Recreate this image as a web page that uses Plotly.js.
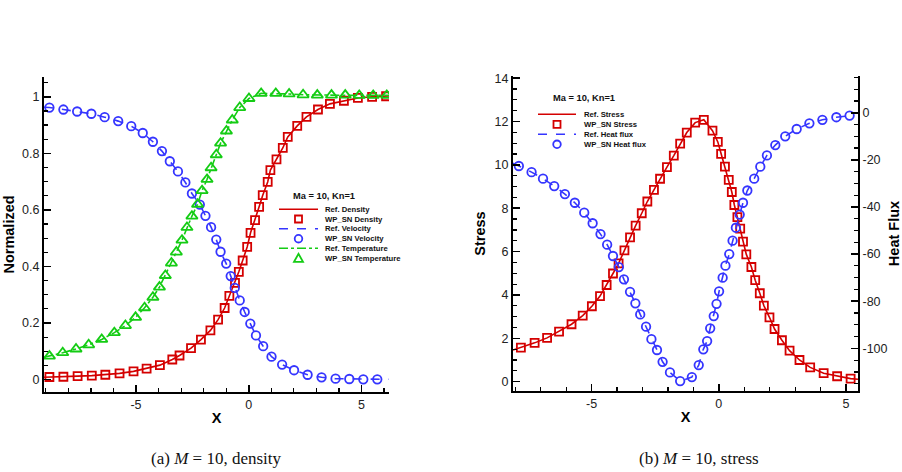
<!DOCTYPE html>
<html><head><meta charset="utf-8">
<script src="https://cdn.plot.ly/plotly-3.0.1.min.js"></script>
<style>html,body{margin:0;padding:0;background:#fff}#chart{width:902px;height:472px}</style>
</head><body><div id="chart"></div>
<script>
// ---------- (a) density / velocity / temperature ----------
const densX = [-8.84,-8.22,-7.59,-6.96,-6.36,-5.73,-5.11,-4.53,-3.94,-3.39,-3.07,-2.56,-2.12,-1.70,-1.36,-1.07,-0.86,-0.61,-0.44,-0.27,-0.07,0.08,0.28,0.46,0.62,0.84,0.96,1.23,1.51,1.73,2.15,2.56,3.07,3.60,4.22,4.84,5.47,6.09];
const densY = [0.009,0.010,0.012,0.014,0.017,0.022,0.029,0.039,0.051,0.071,0.085,0.111,0.141,0.174,0.212,0.253,0.296,0.342,0.381,0.421,0.469,0.519,0.564,0.611,0.652,0.699,0.741,0.779,0.819,0.858,0.897,0.929,0.955,0.975,0.986,0.996,1.000,1.002];
const velX = [-8.84,-8.22,-7.61,-6.98,-6.39,-5.79,-5.21,-4.70,-4.25,-3.85,-3.50,-3.14,-2.81,-2.52,-2.17,-1.92,-1.67,-1.44,-1.25,-1.00,-0.80,-0.62,-0.40,-0.18,0.07,0.32,0.64,1.01,1.48,2.01,2.61,3.23,3.85,4.46,5.08,5.70];
const velY = [0.962,0.955,0.948,0.940,0.928,0.914,0.896,0.872,0.841,0.808,0.772,0.736,0.697,0.658,0.619,0.579,0.539,0.495,0.452,0.410,0.366,0.324,0.280,0.239,0.198,0.156,0.118,0.081,0.053,0.033,0.017,0.008,0.003,0.002,0.001,0.001];
const tempX = [-8.84,-8.25,-7.66,-7.10,-6.52,-5.96,-5.47,-5.02,-4.62,-4.25,-3.96,-3.70,-3.43,-3.21,-2.96,-2.74,-2.52,-2.27,-2.07,-1.85,-1.67,-1.44,-1.25,-0.99,-0.73,-0.40,0.01,0.55,1.20,1.79,2.41,3.04,3.67,4.28,4.90,5.52,6.12];
const tempY = [0.083,0.095,0.108,0.123,0.142,0.166,0.191,0.220,0.254,0.291,0.327,0.368,0.412,0.451,0.493,0.538,0.578,0.620,0.668,0.708,0.749,0.795,0.836,0.879,0.918,0.962,0.994,1.012,1.012,1.010,1.007,1.006,1.006,1.006,1.005,1.005,1.005];
// reference-curve end points (where the solid/dashed curves meet the axes)
const densRefEndsX = [-9.08, 6.22], densRefEndsY = [0.008, 1.003];
const velRefEndsX = [-9.08, 6.22], velRefEndsY = [0.963, 0.001];
const tempRefEndsX = [-9.08, 6.22], tempRefEndsY = [0.079, 1.005];

// ---------- (b) stress / heat flux ----------
const stressX = [-7.78,-7.24,-6.75,-6.28,-5.79,-5.35,-4.99,-4.67,-4.41,-4.16,-3.94,-3.71,-3.49,-3.27,-3.03,-2.81,-2.55,-2.31,-2.04,-1.77,-1.52,-1.26,-0.93,-0.59,-0.25,-0.04,0.09,0.24,0.39,0.51,0.61,0.73,0.84,0.95,1.08,1.28,1.43,1.61,1.77,1.99,2.19,2.48,2.78,3.17,3.59,4.12,4.65,5.18];
const stressY = [1.57,1.79,2.02,2.31,2.65,3.05,3.48,3.95,4.46,4.99,5.46,6.06,6.66,7.20,7.77,8.31,8.85,9.36,9.90,10.43,10.98,11.49,11.95,12.08,11.58,11.06,10.51,9.92,9.31,8.75,8.15,7.59,7.06,6.46,5.87,5.29,4.68,4.08,3.51,2.97,2.43,1.91,1.43,1.00,0.66,0.39,0.25,0.14];
const heatX = [-7.86,-7.36,-6.91,-6.47,-6.05,-5.66,-5.29,-4.96,-4.65,-4.39,-4.16,-3.93,-3.73,-3.49,-3.28,-3.09,-2.86,-2.65,-2.43,-2.21,-1.92,-1.52,-1.06,-0.79,-0.61,-0.46,-0.34,-0.20,-0.09,0.01,0.15,0.26,0.41,0.54,0.67,0.82,0.95,1.12,1.39,1.63,1.89,2.22,2.61,3.06,3.56,4.07,4.62,5.14];
const heatY = [-22.6,-25.2,-28.0,-31.1,-34.5,-38.2,-42.4,-46.9,-51.5,-56.0,-60.8,-65.5,-70.7,-76.0,-80.9,-85.6,-90.8,-96.1,-100.7,-105.7,-110.2,-113.9,-112.2,-107.1,-100.4,-96.9,-91.5,-86.3,-81.1,-75.8,-70.0,-64.9,-60.0,-54.3,-48.8,-43.2,-38.2,-33.0,-28.0,-22.9,-18.1,-13.7,-10.0,-6.9,-4.5,-3.0,-1.9,-1.2];
const stressRefEndsX = [-8.09, 5.47], stressRefEndsY = [1.46, 0.11];
const heatRefEndsX = [-8.09, 5.24], heatRefEndsY = [-21.4, -1.1];

// ---------- tick labels ----------
const xTickVals = [-5, 0, 5], xTickText = ['-5', '0', '5'];
const normTickVals = [0, 0.2, 0.4, 0.6, 0.8, 1], normTickText = ['0', '0.2', '0.4', '0.6', '0.8', '1'];
const stressTickVals = [0, 2, 4, 6, 8, 10, 12, 14], stressTickText = ['0', '2', '4', '6', '8', '10', '12', '14'];
const heatTickVals = [0, -20, -40, -60, -80, -100], heatTickText = ['0', '-20', '-40', '-60', '-80', '-100'];

// ---------- legend labels ----------
const legendHeader = 'Ma = 10, Kn=1';
const legendA = ['Ref. Density', 'WP_SN Density', 'Ref. Velocity', 'WP_SN Velocity', 'Ref. Temperature', 'WP_SN Temperature'];
const legendB = ['Ref. Stress', 'WP_SN Stress', 'Ref. Heat flux', 'WP_SN Heat flux'];
const captions = ['(a) <i>M</i> = 10, density', '(b) <i>M</i> = 10, stress'];

const RED = '#d40000', BLUE = '#3535ff', GREEN = '#14cc14', INK = '#000';
const W = 902, H = 472;
const px = v => v / W, py = v => 1 - v / H;
const withEnds = (ends, arr) => [ends[0]].concat(arr, [ends[1]]);

function refLine(x, y, color, dash, xa, ya) {
  return {x, y, mode: 'lines', xaxis: xa, yaxis: ya, showlegend: false, hoverinfo: 'skip',
    line: {color, width: 1.6, dash}};
}
function pts(x, y, color, symbol, size, xa, ya) {
  return {x, y, mode: 'markers', xaxis: xa, yaxis: ya, showlegend: false,
    marker: {symbol, size, color, line: {color, width: 1.8}}};
}

const traces = [
  refLine(withEnds(densRefEndsX, densX), withEnds(densRefEndsY, densY), RED, 'solid', 'x', 'y'),
  pts(densX, densY, RED, 'square-open', 8, 'x', 'y'),
  refLine(withEnds(velRefEndsX, velX), withEnds(velRefEndsY, velY), BLUE, 'dash', 'x', 'y'),
  pts(velX, velY, BLUE, 'circle-open', 8.5, 'x', 'y'),
  refLine(withEnds(tempRefEndsX, tempX), withEnds(tempRefEndsY, tempY), GREEN, 'dashdot', 'x', 'y'),
  pts(tempX, tempY, GREEN, 'triangle-up-open', 10, 'x', 'y'),
  refLine(withEnds(stressRefEndsX, stressX), withEnds(stressRefEndsY, stressY), RED, 'solid', 'x2', 'y2'),
  pts(stressX, stressY, RED, 'square-open', 8, 'x2', 'y2'),
  refLine(withEnds(heatRefEndsX, heatX), withEnds(heatRefEndsY, heatY), BLUE, 'dash', 'x2', 'y3'),
  pts(heatX, heatY, BLUE, 'circle-open', 8.5, 'x2', 'y3')
];

const tickFont = {family: 'Liberation Sans, Arial, sans-serif', size: 12.5, color: '#222'};
const titleFont = {family: 'Liberation Sans, Arial, sans-serif', size: 14.5, color: INK};
function axis(extra) {
  return Object.assign({
    showgrid: false, zeroline: false, showline: true, linewidth: 2, linecolor: INK,
    ticks: 'inside', ticklen: 7, tickwidth: 1.5, tickcolor: INK, tickmode: 'array',
    tickfont: tickFont, fixedrange: true
  }, extra);
}

const layout = {
  width: W, height: H, margin: {l: 0, r: 0, t: 0, b: 0},
  paper_bgcolor: '#fff', plot_bgcolor: '#fff', showlegend: false,
  xaxis: axis({domain: [px(44), px(389)], range: [-9.08, 6.22], anchor: 'y',
    tickvals: xTickVals, ticktext: xTickText,
    minor: {tickmode: 'linear', tick0: 0, dtick: 1, ticks: 'inside', ticklen: 4, tickwidth: 1.2, tickcolor: INK},
    title: {text: '<b>X</b>', font: titleFont, standoff: 2}}),
  yaxis: axis({domain: [py(392), py(77)], range: [-0.044, 1.07], anchor: 'x',
    tickvals: normTickVals, ticktext: normTickText,
    minor: {tickmode: 'linear', tick0: 0, dtick: 0.05, ticks: 'inside', ticklen: 4, tickwidth: 1.2, tickcolor: INK},
    title: {text: '<b>Normalized</b>', font: titleFont, standoff: 4}}),
  xaxis2: axis({domain: [px(513), px(858)], range: [-8.09, 5.47], anchor: 'y2',
    tickvals: xTickVals, ticktext: xTickText,
    minor: {tickmode: 'linear', tick0: 0, dtick: 1, ticks: 'inside', ticklen: 4, tickwidth: 1.2, tickcolor: INK},
    title: {text: '<b>X</b>', font: titleFont, standoff: 2}}),
  yaxis2: axis({domain: [py(391), py(76)], range: [-0.43, 14.1], anchor: 'x2',
    tickvals: stressTickVals, ticktext: stressTickText,
    minor: {tickmode: 'linear', tick0: 0, dtick: 0.5, ticks: 'inside', ticklen: 4, tickwidth: 1.2, tickcolor: INK},
    title: {text: '<b>Stress</b>', font: titleFont, standoff: 6}}),
  yaxis3: axis({range: [-118.1, 15.6], overlaying: 'y2', side: 'right', anchor: 'x2',
    tickvals: heatTickVals, ticktext: heatTickText,
    minor: {tickmode: 'linear', tick0: 0, dtick: 5, ticks: 'inside', ticklen: 4, tickwidth: 1.2, tickcolor: INK},
    title: {text: '<b>Heat Flux</b>', font: titleFont, standoff: 6}}),
  shapes: [], annotations: []
};

// ---------- hand-built compact legends ----------
const legFont = {family: 'Liberation Sans, Arial, sans-serif', size: 7.7, color: '#111'};
const hdrFont = {family: 'Liberation Sans, Arial, sans-serif', size: 9.3, color: '#111'};
function legendBlock(hdrX, hdrY, lineX0, lineX1, textX, rowY, entries) {
  layout.annotations.push({xref: 'paper', yref: 'paper', x: px(hdrX), y: py(hdrY), xanchor: 'left', yanchor: 'middle',
    text: '<b>' + legendHeader + '</b>', showarrow: false, font: hdrFont});
  entries.forEach((e, i) => {
    const yy = rowY[i];
    layout.annotations.push({xref: 'paper', yref: 'paper', x: px(textX), y: py(yy), xanchor: 'left', yanchor: 'middle',
      text: '<b>' + e.label + '</b>', showarrow: false, font: legFont});
    const mx = (lineX0 + lineX1) / 2;
    if (e.kind === 'line') {
      layout.shapes.push({type: 'line', xref: 'paper', yref: 'paper', x0: px(lineX0), x1: px(lineX1), y0: py(yy), y1: py(yy),
        line: {color: e.color, width: 1.6, dash: e.dash}});
    } else if (e.kind === 'square') {
      layout.shapes.push({type: 'rect', xref: 'paper', yref: 'paper', xsizemode: 'pixel', ysizemode: 'pixel',
        xanchor: px(mx), yanchor: py(yy), x0: -3.5, x1: 3.5, y0: -3.5, y1: 3.5, line: {color: e.color, width: 1.8}});
    } else if (e.kind === 'circle') {
      layout.shapes.push({type: 'circle', xref: 'paper', yref: 'paper', xsizemode: 'pixel', ysizemode: 'pixel',
        xanchor: px(mx), yanchor: py(yy), x0: -3.8, x1: 3.8, y0: -3.8, y1: 3.8, line: {color: e.color, width: 1.8}});
    } else if (e.kind === 'triangle') {
      layout.shapes.push({type: 'path', xref: 'paper', yref: 'paper', xsizemode: 'pixel', ysizemode: 'pixel',
        xanchor: px(mx), yanchor: py(yy), path: 'M -4.5 -3.5 L 4.5 -3.5 L 0 4.5 Z', line: {color: e.color, width: 1.8}});
    }
  });
}
legendBlock(290.7, 196, 279, 318, 323.3, [209.3, 219, 228.7, 238.7, 248.3, 258.3], [
  {label: legendA[0], kind: 'line', color: RED, dash: 'solid'},
  {label: legendA[1], kind: 'square', color: RED},
  {label: legendA[2], kind: 'line', color: BLUE, dash: 'dash'},
  {label: legendA[3], kind: 'circle', color: BLUE},
  {label: legendA[4], kind: 'line', color: GREEN, dash: 'dashdot'},
  {label: legendA[5], kind: 'triangle', color: GREEN}
]);
legendBlock(551, 98.3, 538, 576, 581.7, [114.3, 124.3, 134.3, 144.3], [
  {label: legendB[0], kind: 'line', color: RED, dash: 'solid'},
  {label: legendB[1], kind: 'square', color: RED},
  {label: legendB[2], kind: 'line', color: BLUE, dash: 'dash'},
  {label: legendB[3], kind: 'circle', color: BLUE}
]);

// ---------- sub-figure captions ----------
const capFont = {family: 'Liberation Serif, DejaVu Serif, serif', size: 17, color: '#111'};
layout.annotations.push({xref: 'paper', yref: 'paper', x: px(215.5), y: py(458), xanchor: 'center', yanchor: 'middle',
  text: captions[0], showarrow: false, font: capFont});
layout.annotations.push({xref: 'paper', yref: 'paper', x: px(698.5), y: py(458), xanchor: 'center', yanchor: 'middle',
  text: captions[1], showarrow: false, font: capFont});

Plotly.newPlot('chart', traces, layout, {staticPlot: true, displayModeBar: false});
</script>
</body></html>
